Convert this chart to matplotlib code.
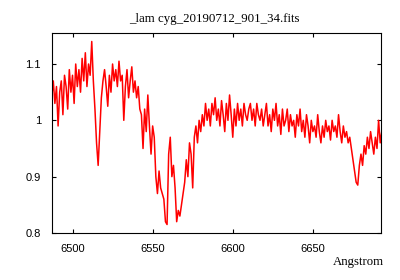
import numpy as np
import matplotlib
matplotlib.use("Agg")
import matplotlib.pyplot as plt

# spectrum, one value per Angstrom starting at 6487
wave_start = 6487
flux = [
    1.04, 1.07, 1.03, 1.06, 0.99, 1.05, 1.07, 1.01, 1.08, 1.06,   # 6487
    1.02, 1.09, 1.05, 1.08, 1.03, 1.10, 1.06, 1.09, 1.05, 1.11,   # 6497
    1.07, 1.12, 1.06, 1.10, 1.08, 1.14, 1.07, 1.02, 0.96, 0.92,   # 6507
    0.98, 1.04, 1.07, 1.09, 1.06, 1.025, 1.08, 1.05, 1.10, 1.07,  # 6517
    1.09, 1.06, 1.105, 1.07, 1.08, 1.00, 1.06, 1.09, 1.04, 1.07,  # 6527
    1.095, 1.05, 1.07, 1.04, 1.06, 1.02, 1.01, 0.95, 1.02, 0.98,  # 6537
    1.045, 0.99, 0.94, 0.99, 0.97, 0.90, 0.87, 0.91, 0.88, 0.87,  # 6547
    0.86, 0.82, 0.815, 0.94, 0.97, 0.90, 0.92, 0.88, 0.82, 0.84,  # 6557
    0.83, 0.85, 0.87, 0.89, 0.93, 0.90, 0.96, 0.94, 0.88, 0.97,   # 6567
    0.99, 0.96, 1.00, 0.98, 1.01, 0.99, 1.03, 1.00, 1.02, 0.99,   # 6577
    1.03, 1.01, 1.04, 1.00, 1.02, 0.99, 1.035, 1.01, 0.98, 1.03,  # 6587
    1.00, 1.045, 1.01, 0.97, 1.02, 0.99, 1.03, 1.00, 1.02, 0.99,  # 6597
    1.03, 1.01, 1.00, 1.02, 1.03, 1.00, 1.02, 0.99, 1.03, 1.01,   # 6607
    1.00, 1.02, 0.99, 1.01, 1.03, 0.99, 1.01, 0.98, 1.02, 1.00,   # 6617
    1.03, 0.99, 1.01, 0.975, 1.02, 0.99, 1.00, 1.02, 0.98, 1.01,  # 6627
    0.99, 1.00, 0.97, 1.01, 0.99, 1.02, 0.98, 1.00, 0.97, 1.01,   # 6637
    0.99, 0.96, 1.00, 0.98, 0.99, 0.97, 1.01, 0.98, 0.96, 0.99,   # 6647
    0.97, 1.00, 0.98, 0.99, 0.965, 1.00, 0.98, 0.99, 0.97, 1.01,  # 6657
    0.98, 0.96, 0.99, 0.97, 0.98, 0.96, 0.97, 0.95, 0.93, 0.91,   # 6667
    0.89, 0.885, 0.92, 0.94, 0.92, 0.955, 0.94, 0.97, 0.95, 0.98, # 6677
    0.96, 0.94, 0.97, 0.95, 1.00, 0.96, 0.98,                     # 6687
]
wave = wave_start + np.arange(len(flux))

xticks = [6500, 6550, 6600, 6650]
yticks = [0.8, 0.9, 1.0, 1.1]
yticklabels = ["0.8", "0.9", "1", "1.1"]
title = "_lam cyg_20190712_901_34.fits"

fig = plt.figure(figsize=(4, 2.8), dpi=100)
ax = fig.add_axes([0.13, 0.168, 0.8225, 0.714])
ax.plot(wave, flux, color="red", lw=1.1)

ax.set_xlim(6487.2, 6692.5)
ax.set_ylim(0.8, 1.155)
ax.set_xticks(xticks)
ax.set_yticks(yticks)
ax.set_yticklabels(yticklabels)
ax.tick_params(direction="in", top=True, right=True, length=3, width=0.8,
               labelsize=8, pad=8)
for lab in ax.get_xticklabels() + ax.get_yticklabels():
    lab.set_family("Liberation Sans")
for s in ax.spines.values():
    s.set_linewidth(0.8)

fig.text(0.535, 0.932, title, ha="center", va="center",
         family="Liberation Serif", fontsize=9.3)
fig.text(0.96, 0.063, "Angstrom", ha="right", va="center",
         family="Liberation Serif", fontsize=9.2)

fig.savefig("out.png", dpi=100)
